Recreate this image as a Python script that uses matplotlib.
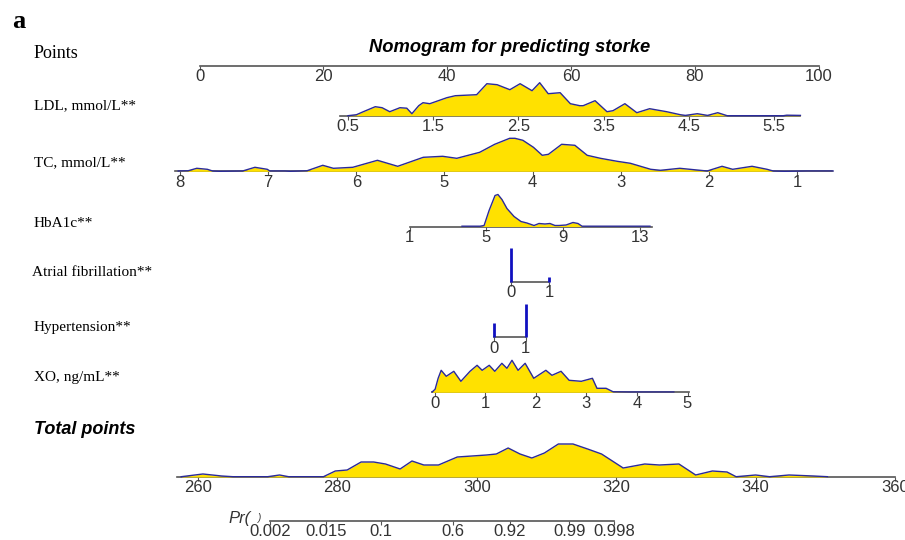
import numpy as np
import matplotlib
matplotlib.use("Agg")
import matplotlib.pyplot as plt

plt.rcParams['font.family'] = ['Liberation Sans', 'DejaVu Sans']

# ---- data ----
points_ticks = [0, 20, 40, 60, 80, 100]

ldl_ticks = [0.5, 1.5, 2.5, 3.5, 4.5, 5.5]
ldl_val = [0.50, 0.60, 0.68, 0.82, 0.90, 0.99, 1.11, 1.19, 1.25, 1.33, 1.38, 1.46, 1.56,
           1.66, 1.76, 2.01, 2.13, 2.25, 2.40, 2.52, 2.66, 2.75, 2.85, 2.99, 3.11, 3.22,
           3.26, 3.40, 3.54, 3.61, 3.75, 3.89, 4.04, 4.24, 4.40, 4.46, 4.60, 4.72, 4.84,
           4.95, 5.61, 5.65, 5.81]
ldl_den = [0, 1, 4, 9, 8, 4, 8, 7.5, 2, 10, 13, 12, 15,
           18, 20, 21, 32, 31, 26, 32, 25, 33, 22, 23, 12, 10,
           10, 15, 4, 5, 12, 3, 7, 4, 1, 0.3, 2, 0.3, 3,
           0, 0, 0.5, 0.3]

tc_ticks = [8, 7, 6, 5, 4, 3, 2, 1]
tc_val = [8.02, 7.91, 7.81, 7.69, 7.63, 7.55, 7.29, 7.15, 7.01, 6.98, 6.81, 6.75, 6.64,
          6.56, 6.38, 6.26, 6.04, 5.76, 5.53, 5.24, 5.02, 4.86, 4.60, 4.43, 4.26, 4.20,
          4.11, 3.99, 3.89, 3.82, 3.67, 3.52, 3.38, 3.23, 3.04, 2.89, 2.66, 2.55, 2.33,
          2.10, 2.02, 1.85, 1.73, 1.51, 1.34, 1.27, 1.14, 0.89, 0.59]
tc_den = [0.3, 0.5, 3, 2, 0.3, 0, 0.3, 4, 2, 0.3, 0.3, 0, 0.3,
          0.5, 6, 3, 4, 11, 5, 14, 15, 13, 19, 27, 33, 33,
          31, 24, 16, 17, 27, 26, 16, 13, 10, 8, 2, 1, 3,
          1, 0.3, 5, 2, 5, 2, 0.3, 0, 0.3, 0.3]

hba_ticks = [1, 5, 9, 13]
hba_val = [3.73, 4.67, 4.88, 5.14, 5.45, 5.60, 5.81, 6.07, 6.44, 6.80, 7.11, 7.48, 7.74,
           8.05, 8.31, 8.57, 8.78, 9.15, 9.51, 9.77, 9.98, 10.66, 11.45, 12.23, 13.52]
hba_den = [0.3, 0.3, 1, 16, 31, 32, 27, 18, 10, 5, 3.5, 1, 3,
           2.5, 3, 1, 1, 1.5, 4, 3, 0.3, 0.3, 0.3, 0.3, 0.3]

af_cat = [0, 1]
af_freq = [34, 5]

htn_cat = [0, 1]
htn_freq = [14, 33]

xo_ticks = [0, 1, 2, 3, 4, 5]
xo_val = [-0.05, 0.01, 0.07, 0.13, 0.23, 0.38, 0.52, 0.70, 0.84, 0.94, 1.08, 1.19, 1.33,
          1.43, 1.53, 1.65, 1.79, 1.96, 2.20, 2.32, 2.50, 2.66, 2.90, 3.12, 3.21, 3.39,
          3.53, 3.84, 4.24, 4.73]
xo_den = [0.3, 3, 14, 22, 16, 21, 11, 21, 27, 22, 27, 21, 29,
          24, 32, 22, 29, 14, 22, 17, 21, 12, 11, 14, 4, 4,
          0.5, 0.3, 0.3, 0.3]

total_ticks = [260, 280, 300, 320, 340, 360]
total_val = [257.6, 260.7, 263.4, 265, 270, 271.7, 273, 278, 279.7, 281.4, 283.4, 285.2,
             286.9, 289, 290.7, 292.4, 294.5, 297.2, 301.4, 302.8, 304.5, 306.2, 307.9,
             309.7, 311.7, 313.8, 315.9, 317.9, 321, 324.1, 326.2, 329, 331.4, 333.8,
             335.9, 337.2, 340, 342, 344.8, 348.3, 350.3]
total_den = [0.3, 3, 1, 0.3, 0.3, 2, 0.3, 0.3, 6, 7, 15, 15,
             13, 8, 16, 12, 12, 20, 22, 23, 29, 23, 19,
             24, 33, 33, 28, 23, 9, 13, 12, 13, 2, 6,
             5, 0.3, 2, 0.3, 2, 1, 0.3]

pr_ticks = [0.002, 0.015, 0.1, 0.6, 0.92, 0.99, 0.998]
# logistic link from total points to probability
pr_mid, pr_slope = 295.0, 0.2514

# ---- style ----
W, H = 905, 540
YEL = '#ffe100'
BLUE = '#2a2a9a'
AXC = '#555555'
TXT = '#333333'
SERIF = ['Liberation Serif', 'DejaVu Serif']

fig = plt.figure(figsize=(W / 100, H / 100), dpi=100)


def row_axes(base_y, v0, x0, v1, x1, up=42, down=22):
    # full-width axes whose x scale puts value v0 at pixel x0 and v1 at x1
    px = (x1 - x0) / (v1 - v0)
    ax = fig.add_axes([0, (H - base_y - down) / H, 1, (up + down) / H])
    ax.set_xlim(v0 - x0 / px, v0 + (W - x0) / px)
    ax.set_ylim(-down, up)
    ax.patch.set_alpha(0)
    for s in ['left', 'right', 'top']:
        ax.spines[s].set_visible(False)
    ax.spines['bottom'].set_position(('data', 0))
    ax.set_yticks([])
    return ax


def style_axis(ax, ticks, lo, hi, labels=None):
    sp = ax.spines['bottom']
    sp.set_bounds(lo, hi)
    sp.set_color(AXC)
    sp.set_linewidth(1.2)
    ax.set_xticks(ticks)
    ax.set_xticklabels(labels if labels else [f'{t:g}' for t in ticks])
    ax.tick_params(axis='x', direction='out', length=3, width=0.8, color=AXC,
                   pad=-0.5, labelsize=12, labelcolor=TXT)


def density(ax, v, h):
    v = np.asarray(v, float)
    h = np.asarray(h, float)
    ax.fill_between(v, 0, h, color=YEL, lw=0, zorder=3)
    keep = (h > 0) | (np.r_[h[1:], 0] > 0) | (np.r_[0, h[:-1]] > 0)
    ax.plot(v, np.where(keep, h, np.nan), color=BLUE, lw=1, zorder=4)


# Points
ax = row_axes(65.7, 0, 199.5, 100, 818.5)
style_axis(ax, points_ticks, 0, 100)

# LDL
ax = row_axes(115.7, 0.5, 348, 5.5, 774)
style_axis(ax, ldl_ticks, 0.41, 5.8)
density(ax, ldl_val, ldl_den)

# TC
ax = row_axes(171.3, 8, 180, 1, 797)
style_axis(ax, tc_ticks, 8.06, 0.6)
density(ax, tc_val, tc_den)

# HbA1c
ax = row_axes(226.5, 1, 409.6, 13, 640)
style_axis(ax, hba_ticks, 1, 13.6)
density(ax, hba_val, hba_den)

# Atrial fibrillation
ax = row_axes(282, 0, 510.7, 1, 549)
style_axis(ax, af_cat, 0, 1)
ax.vlines(af_cat, 0, af_freq, color='#1010c0', lw=2, zorder=4)

# Hypertension
ax = row_axes(337.3, 0, 493.6, 1, 525.7)
style_axis(ax, htn_cat, 0, 1)
ax.vlines(htn_cat, 0, htn_freq, color='#1010c0', lw=2, zorder=4)

# XO
ax = row_axes(392.3, 0, 434.6, 5, 687.5)
style_axis(ax, xo_ticks, -0.05, 5.02)
density(ax, xo_val, xo_den)

# Total points
ax = row_axes(477, 260, 198, 360, 895)
style_axis(ax, total_ticks, 257, 360)
density(ax, total_val, total_den)

# Probability scale
pr_ticks = np.array(pr_ticks)
pr_pos = pr_mid + np.log(pr_ticks / (1 - pr_ticks)) / pr_slope
ax = row_axes(520.7, 260, 198, 360, 895)
style_axis(ax, pr_pos, pr_pos[0], pr_pos[-1], labels=[f'{p:g}' for p in pr_ticks])

# ---- texts ----
def ftext(x, y, s, **kw):
    fig.text(x / W, 1 - y / H, s, **kw)


ftext(12, 22, 'a', fontsize=19, fontweight='bold', family=SERIF, va='center')
ftext(510, 47, 'Nomogram for predicting storke', fontsize=13.2, fontweight='bold',
      style='italic', ha='center', va='center')
ftext(34, 54, 'Points', fontsize=13, family=SERIF, va='center')
ftext(34, 106, 'LDL, mmol/L**', fontsize=11, family=SERIF, va='center')
ftext(34, 163, 'TC, mmol/L**', fontsize=11, family=SERIF, va='center')
ftext(34, 224, 'HbA1c**', fontsize=11, family=SERIF, va='center')
ftext(32, 273, 'Atrial fibrillation**', fontsize=11, family=SERIF, va='center')
ftext(34, 328, 'Hypertension**', fontsize=11, family=SERIF, va='center')
ftext(34, 377, 'XO, ng/mL**', fontsize=11, family=SERIF, va='center')
ftext(34, 430, 'Total points', fontsize=13, fontweight='bold', style='italic', va='center')
ftext(251, 518, 'Pr(', fontsize=12, style='italic', color=TXT, ha='right', va='center')
ftext(258, 518, ')', fontsize=7, style='italic', color=TXT, ha='left', va='center')

fig.savefig('out.png', dpi=100)
